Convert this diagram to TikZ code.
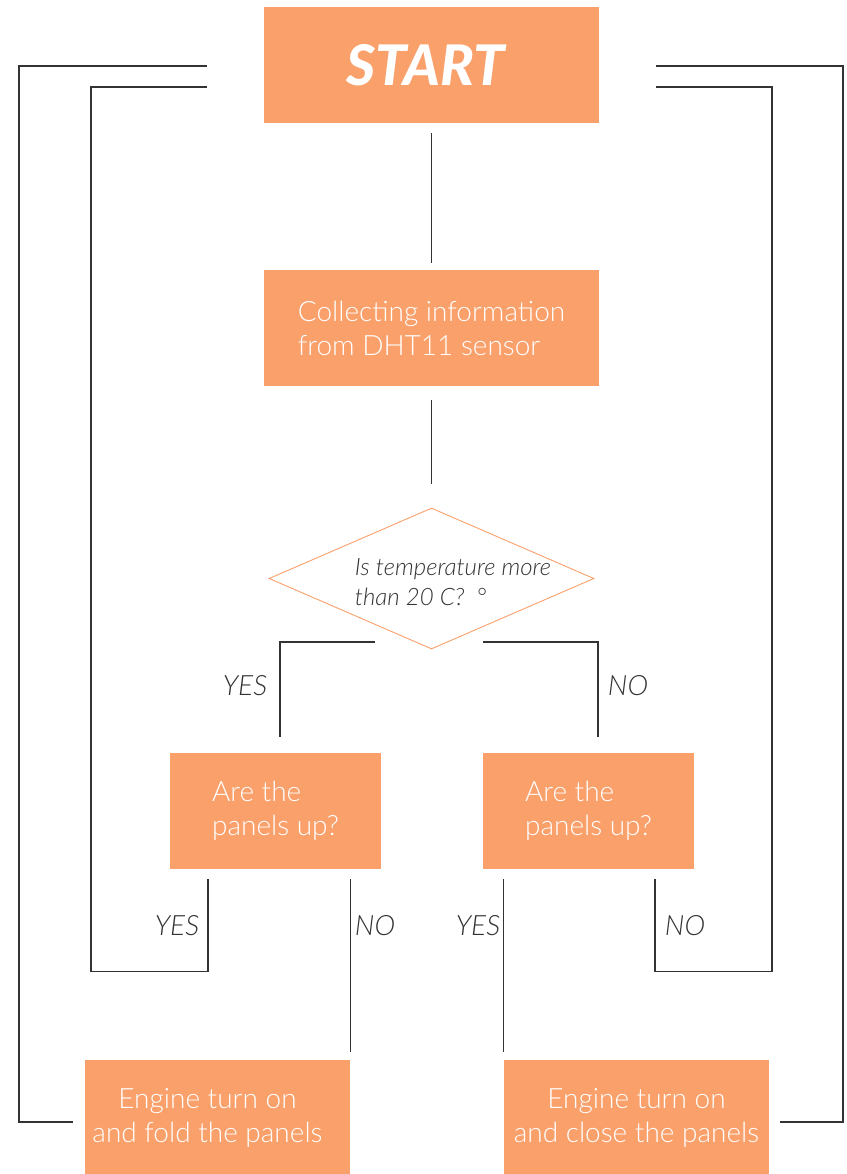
\documentclass[tikz,border=0pt]{standalone}
\usepackage{fontspec}
\setmainfont{Lato}[UprightFont={* Light}, ItalicFont={* Light Italic}, BoldItalicFont={* Black Italic}]
\usetikzlibrary{shapes.geometric}
\definecolor{peach}{HTML}{F9A06B}
\definecolor{ink}{HTML}{333333}
\begin{document}
\begin{tikzpicture}[x=1pt, y=-1pt]
	\tikzstyle{b} = [fill=peach, text=white, inner sep=0pt, minimum height=116pt, align=left, font=\fontsize{28}{34}\selectfont]
	\tikzstyle{d} = [draw=peach, line width=0.9pt, shape=diamond, inner sep=0pt, minimum width=325pt, minimum height=141pt]
	\tikzstyle{l} = [draw=ink, line width=1.2pt]
	\tikzstyle{t} = [text=ink, font=\fontsize{28}{30}\selectfont\itshape]
	\useasboundingbox (0,0) rectangle (846,1174);

	% boxes
	\node[b, minimum width=335pt, font=\fontsize{56}{56}\selectfont\bfseries\itshape] (start) at (431.5,65) {\hspace*{-12pt}START};
	\node[b, minimum width=335pt] (collect) at (431.5,328) {Collecting information\\from DHT11 sensor};
	\node[d] (check) at (431.5,578.5) {};
	\node[t, align=left, font=\fontsize{24}{30}\selectfont\itshape] at (453,582) {Is temperature more\\than 20 C?\ \ °};
	\node[b, minimum width=211pt] (panelsA) at (275.5,811) {Are the\\panels up?};
	\node[b, minimum width=211pt] (panelsB) at (588.5,811) {Are the\\panels up?};
	\node[b, minimum width=265pt, align=center] (fold) at (217.5,1118) {Engine turn on\hspace*{20pt}\\and fold the panels\hspace*{20pt}};
	\node[b, minimum width=265pt, align=center] (close) at (636.5,1118) {Engine turn on\\and close the panels};

	% loose ends of the lines
	\coordinate (yesA) at (375,642);
	\coordinate (noA) at (483,642);
	\coordinate (backA) at (207,87);
	\coordinate (backB) at (656,87);
	\coordinate (topA) at (207,66);
	\coordinate (topB) at (656,66);
	\coordinate (outA) at (73,1122);
	\coordinate (outB) at (780,1122);

	% lines
	\draw[l, shorten <=10pt, shorten >=7pt] (start) -- (collect);
	\draw[l, shorten <=14pt, shorten >=24pt] (collect) -- (check);
	\draw[l, shorten >=16pt] (yesA) -| ([xshift=4.5pt]panelsA.north);
	\draw[l, shorten >=16pt] (noA) -| ([xshift=9.5pt]panelsB.north);
	\draw[l, shorten <=10pt] ([xshift=-67.5pt]panelsA.south) -- ++(0,102) -- ++(-117,0) |- (backA);
	\draw[l, shorten <=10pt, shorten >=8pt] (fold.north east |- panelsA.south) -- (fold.north east);
	\draw[l, shorten <=10pt, shorten >=8pt] (close.north west |- panelsB.south) -- (close.north west);
	\draw[l, shorten <=10pt] ([xshift=66.5pt]panelsB.south) -- ++(0,102) -- ++(117,0) |- (backB);
	\draw[l] (outA) -- ++(-54,0) |- (topA);
	\draw[l] (outB) -- ++(63,0) |- (topB);

	% answers
	\node[t] at (245,686) {YES};
	\node[t] at (628,686) {NO};
	\node[t] at (177,926) {YES};
	\node[t] at (375,926) {NO};
	\node[t] at (478,926) {YES};
	\node[t] at (685,926) {NO};
\end{tikzpicture}
\end{document}
